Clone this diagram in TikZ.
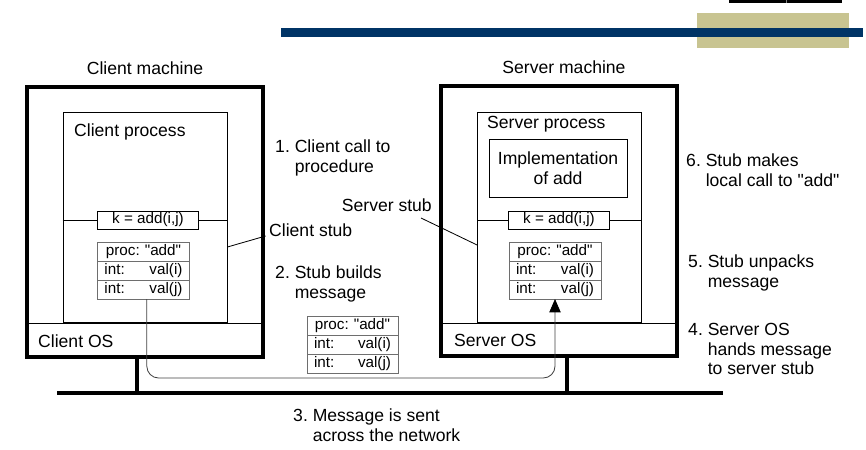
\documentclass[tikz,border=0pt]{standalone}
\usepackage{fontspec}
\setmainfont{Liberation Sans}
\usetikzlibrary{arrows.meta,positioning}
\definecolor{navy}{HTML}{003466}
\definecolor{khaki}{HTML}{C8C491}
\definecolor{rowgray}{HTML}{6E6E6E}
\newcommand{\qt}{\textquotedbl}
\tikzset{every node/.style={font=\fontsize{15}{17}\selectfont},
 machine/.style={draw,line width=2.6pt,minimum width=7.08cm,minimum height=8.1cm},
 procbox/.style={draw,line width=.7pt,minimum width=4.92cm,minimum height=6.3cm},
 implbox/.style={draw,line width=.8pt,minimum width=4.14cm,minimum height=1.74cm,align=center},
 lbl/.style={inner sep=0pt},
 stepnote/.style={inner sep=0pt,anchor=west,align=left},
 kbox/.style={draw,line width=.8pt,minimum width=3.03cm,minimum height=.54cm,inner sep=0pt,
  font=\fontsize{13}{15}\selectfont},
 msgrow/.style={draw=rowgray,line width=.8pt,outer sep=0pt,text width=#1,inner xsep=.21cm,
  inner ysep=0pt,minimum height=.57cm,font=\fontsize{13}{15}\selectfont},
 thinline/.style={line width=.7pt},
 bus/.style={line width=3pt},
 msgpath/.style={-{Triangle[length=4mm,width=3.4mm,color=black]},draw=black!75,line width=.7pt,
  rounded corners=10pt}}
\begin{document}
\begin{tikzpicture}[x=0.03cm,y=-0.03cm]
\useasboundingbox (0,0) rectangle (866,450);
% slide header
\fill[khaki] (697,13) rectangle (849,48);
\fill[navy] (281,28) rectangle (863,37);
\fill (729,0) rectangle (842,2.7);
\draw[gray,line width=.4pt] (786,0) -- (786,2.7);

% client machine
\node[machine] (cm) at (145,222) {};
\node[lbl] (cmname) at (145,68) {Client machine};
\draw[thinline] ([yshift=1.05cm]cm.south west) -- ([yshift=1.05cm]cm.south east);
\node[procbox] (cproc) at (145,217) {};
\node[lbl,anchor=west] (cpname) at (74,132) {Client process};
\node[lbl,anchor=west] (cos) at (38,341) {Client OS};
\node[kbox] (ck) at (148,220) {k = add(i,j)};
\draw[line width=1.4pt] (ck.south west) -- (ck.south east);
\draw[thinline] (cproc.west |- ck) -- (ck.west);
\draw[thinline] (ck.east) -- (cproc.east |- ck);
\node[msgrow=2.34cm,align=center] (cp) at (143.5,251.5) {proc:~\qt add\qt};
\node[msgrow=2.34cm,below=0pt of cp] (ci) {int:\hfill val(i)};
\node[msgrow=2.34cm,below=0pt of ci] (cj) {int:\hfill val(j)};

% server machine
\node[machine] (sm) at (559,221) {};
\node[lbl] (smname) at (564,67) {Server machine};
\draw[thinline] ([yshift=1.02cm]sm.south west) -- ([yshift=1.02cm]sm.south east);
\node[procbox] (sproc) at (559.5,217) {};
\node[lbl,anchor=west] (spname) at (487,124) {Server process};
\node[implbox] (impl) at (558,168) {Implementation\\of add};
\node[lbl,anchor=west] (sos) at (454,340) {Server OS};
\node[kbox] (sk) at (559,220) {k = add(i,j)};
\draw[line width=1.4pt] (sk.south west) -- (sk.south east);
\draw[thinline] (sproc.west |- sk) -- (sk.west);
\draw[thinline] (sk.east) -- (sproc.east |- sk);
\node[msgrow=2.34cm,align=center] (sp) at (555,251.5) {proc:~\qt add\qt};
\node[msgrow=2.34cm,below=0pt of sp] (si) {int:\hfill val(i)};
\node[msgrow=2.34cm,below=0pt of si] (sj) {int:\hfill val(j)};

% message on the way
\node[msgrow=2.31cm,align=center] (mp) at (352.5,325.5) {proc:~\qt add\qt};
\node[msgrow=2.31cm,below=0pt of mp] (mi) {int:\hfill val(i)};
\node[msgrow=2.31cm,below=0pt of mi] (mj) {int:\hfill val(j)};

% network
\coordinate (busL) at (57,393);
\coordinate (busR) at (723,393);
\coordinate (wire) at (0,378);
\draw[bus] (busL) -- (busR);
\draw[bus] ([xshift=-.24cm]cm.south) -- ([xshift=-.24cm]cm.south |- busL);
\draw[bus] ([xshift=.24cm]sm.south) -- ([xshift=.24cm]sm.south |- busL);
\draw[msgpath] ([xshift=.1cm]cj.south) -- ([xshift=.1cm]cj.south |- wire) -- (sj.south |- wire) -- (sj.south);

% stub labels
\node[lbl,anchor=west] (cstub) at (269,230) {Client stub};
\draw[thinline] ([xshift=-.1cm,yshift=-.18cm]cstub.west) -- ([yshift=-.9cm]cproc.east);
\node[lbl,anchor=east] (sstub) at (432,205) {Server stub};
\draw[thinline] ([xshift=-.33cm,yshift=-.39cm]sstub.east) -- ([yshift=-.84cm]sproc.west);

% steps
\node[stepnote] (s1) at (275,158) {1.~Client call to\\\hphantom{1.~}procedure};
\node[stepnote] (s2) at (275,283.5) {2.~Stub builds\\\hphantom{2.~}message};
\node[stepnote] (s3) at (293,425) {3.~Message is sent\\\hphantom{3.~}across the network};
\node[stepnote] (s4) at (688,349) {4.~Server OS\\\hphantom{4.~}hands message\\\hphantom{4.~}to server stub};
\node[stepnote] (s5) at (688,273) {5.~Stub unpacks\\\hphantom{5.~}message};
\node[stepnote] (s6) at (686,170) {6.~Stub makes\\\hphantom{6.~}local call to \qt add\qt};
\end{tikzpicture}
\end{document}
